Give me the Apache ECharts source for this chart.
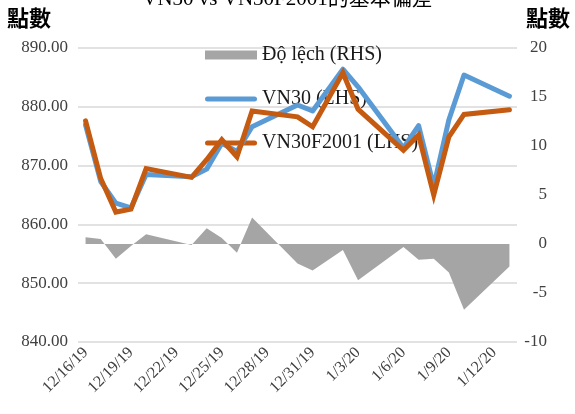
<!DOCTYPE html>
<html>
<head>
<meta charset="utf-8">
<script src="https://cdn.jsdelivr.net/npm/echarts@6/dist/echarts.min.js"></script>
<style>
  html, body { margin: 0; padding: 0; background: #fff; }
  #chart { width: 575px; height: 414px; }
</style>
</head>
<body>
<div id="chart"></div>
<script>
// trading days
const dates = [
  '2019-12-16', '2019-12-17', '2019-12-18', '2019-12-19', '2019-12-20',
  '2019-12-23', '2019-12-24', '2019-12-25', '2019-12-26', '2019-12-27',
  '2019-12-30', '2019-12-31', '2020-01-02', '2020-01-03', '2020-01-06',
  '2020-01-07', '2020-01-08', '2020-01-09', '2020-01-10', '2020-01-13',
];
const vn30 = [
  876.9, 867.3, 863.6, 862.8, 868.5,
  868.1, 869.4, 873.8, 872.4, 876.6,
  880.3, 879.3, 886.4, 883.4, 873.0,
  876.8, 866.5, 877.8, 885.4, 881.8,
];
const vn30f = [
  877.6, 867.8, 862.1, 862.6, 869.5,
  868.0, 871.0, 874.4, 871.5, 879.3,
  878.3, 876.6, 885.8, 879.6, 872.6,
  875.2, 865.0, 874.9, 878.7, 879.5,
];
const deviation = [
  0.7, 0.5, -1.5, -0.2, 1.0,
  -0.1, 1.6, 0.6, -0.9, 2.7,
  -2.0, -2.7, -0.6, -3.7, -0.3,
  -1.6, -1.5, -2.9, -6.7, -2.3,
];
const xTickDays = [0, 3, 6, 9, 12, 15, 18, 21, 24, 27];

const DAY = 86400000;
const start = Date.parse(dates[0] + 'T00:00:00Z');
const dayIndex = dates.map((d) => (Date.parse(d + 'T00:00:00Z') - start) / DAY);
const pair = (arr) => arr.map((v, i) => [dayIndex[i], v]);

const serif = '"Liberation Serif", "Times New Roman", serif';
const cjk = '"Noto Sans CJK TC", "Noto Sans CJK SC", sans-serif';
// thick line with round ends for the legend
const lineIcon = 'path://M2.5,0 L49.5,0 A2.5,2.5 0 0 1 49.5,5 L2.5,5 A2.5,2.5 0 0 1 2.5,0 Z';

const chart = echarts.init(document.getElementById('chart'));
chart.setOption({
  animation: false,
  title: {
    text: 'VN30 vs VN30F2001的基本偏差',
    left: 'center',
    top: -16,
    textStyle: { fontFamily: serif + ', ' + cjk, fontSize: 21, fontWeight: 'normal', color: '#000' },
  },
  graphic: [
    { type: 'text', left: 7, top: 7, style: { text: '點數', font: 'bold 22px ' + cjk, fill: '#000' } },
    { type: 'text', right: 5, top: 7, style: { text: '點數', font: 'bold 22px ' + cjk, fill: '#000' } },
  ],
  legend: {
    orient: 'vertical',
    left: 200,
    top: 40,
    z: 1, // lines go over the legend, like the original
    itemGap: 24,
    itemWidth: 52,
    itemHeight: 9,
    textStyle: { fontFamily: serif, fontSize: 20, color: '#1a1a1a' },
    data: [
      { name: 'Độ lệch (RHS)', icon: 'rect' },
      { name: 'VN30 (LHS)', icon: lineIcon },
      { name: 'VN30F2001 (LHS)', icon: lineIcon },
    ],
  },
  grid: { left: 78, right: 58, top: 48, bottom: 72 },
  xAxis: {
    type: 'value',
    min: -0.5,
    max: 28.5,
    splitLine: { show: false },
    axisLine: { show: false },
    axisTick: { show: false },
    axisLabel: {
      customValues: xTickDays,
      rotate: 45,
      margin: 8,
      fontFamily: serif,
      fontSize: 16,
      color: '#404040',
      formatter: (v) => {
        const d = new Date(start + v * DAY);
        return (d.getUTCMonth() + 1) + '/' + d.getUTCDate() + '/' + String(d.getUTCFullYear()).slice(2);
      },
    },
  },
  yAxis: [
    {
      type: 'value',
      min: 840,
      max: 890,
      interval: 10,
      axisLine: { show: false },
      axisTick: { show: false },
      splitLine: { lineStyle: { color: '#d9d9d9', width: 1.5 } },
      axisLabel: {
        margin: 10,
        fontFamily: serif,
        fontSize: 17,
        color: '#404040',
        formatter: (v) => v.toFixed(2),
      },
    },
    {
      type: 'value',
      min: -10,
      max: 20,
      interval: 5,
      axisLine: { show: false },
      axisTick: { show: false },
      splitLine: { show: false },
      axisLabel: {
        align: 'right',
        margin: 30,
        fontFamily: serif,
        fontSize: 17,
        color: '#404040',
      },
    },
  ],
  series: [
    {
      name: 'Độ lệch (RHS)',
      type: 'line',
      yAxisIndex: 1,
      data: pair(deviation),
      symbol: 'none',
      color: '#a5a5a5',
      lineStyle: { width: 0 },
      areaStyle: { color: '#a5a5a5', opacity: 1 },
    },
    {
      name: 'VN30 (LHS)',
      type: 'line',
      data: pair(vn30),
      symbol: 'none',
      color: '#5b9bd5',
      lineStyle: { width: 5, cap: 'round', join: 'round' },
    },
    {
      name: 'VN30F2001 (LHS)',
      type: 'line',
      data: pair(vn30f),
      symbol: 'none',
      color: '#c55a11',
      lineStyle: { width: 5, cap: 'round', join: 'miter' },
    },
  ],
});
</script>
</body>
</html>
